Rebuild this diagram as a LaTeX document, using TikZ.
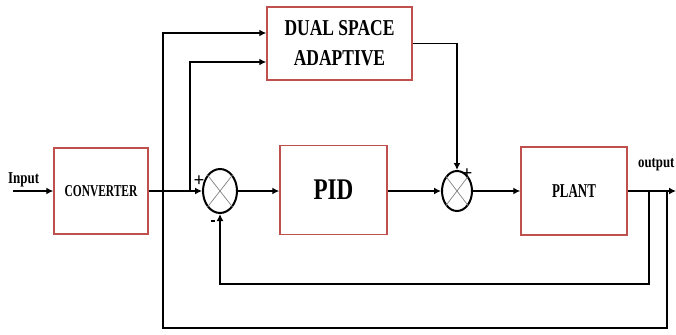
\documentclass[tikz,border=0pt]{standalone}
\usepackage{fontspec}
\setmainfont{Liberation Serif}
\usetikzlibrary{arrows.meta,shapes.geometric,calc}
\definecolor{boxred}{RGB}{192,80,77}
\newcommand{\sqz}[2]{\scalebox{#1}[1]{#2}}
\begin{document}
\begin{tikzpicture}[x=1pt,y=-1pt,
 blk/.style={draw=boxred,line width=1.5pt,rectangle,inner sep=0pt,fill=white},
 sumnode/.style={draw,ellipse,line width=2pt,inner sep=0pt},
 conn/.style={line width=1.9pt},
 arr/.style={conn,-{Latex[length=7pt,width=7pt]}},
 sgn/.style={font=\fontsize{19}{19}\selectfont\bfseries,inner sep=0pt}
]
\useasboundingbox (0,0) rectangle (676,334);
\node[blk,minimum width=94pt,minimum height=86pt] (conv) at (101,191) {\fontsize{16.6}{18}\selectfont\bfseries\sqz{0.69}{CONVERTER}};
\node[blk,minimum width=145pt,minimum height=73pt,align=center,font=\fontsize{22.7}{30}\selectfont\bfseries] (dsa) at (339.5,43.5) {\sqz{0.77}{DUAL SPACE}\\\sqz{0.77}{ADAPTIVE}};
\node[blk,minimum width=107pt,minimum height=89pt] (pid) at (333.5,190) {\fontsize{30}{32}\selectfont\bfseries\sqz{0.77}{PID}};
\node[blk,minimum width=106pt,minimum height=88pt] (plant) at (574,191) {\fontsize{19.6}{22}\selectfont\bfseries\sqz{0.66}{PLANT}};
\node[sumnode,minimum width=34pt,minimum height=44pt] (s1) at (220,191) {};
\node[sumnode,minimum width=30pt,minimum height=40pt] (s2) at (457,191) {};
\draw[gray,line width=0.7pt] (s1.north east) -- (s1.south west) (s1.north west) -- (s1.south east);
\draw[gray,line width=0.7pt] (s2.north east) -- (s2.south west) (s2.north west) -- (s2.south east);
\node[font=\fontsize{16.6}{18}\selectfont\bfseries,anchor=base west,inner sep=0pt] (inlbl) at (8,183) {\sqz{0.78}{Input}};
\node[font=\fontsize{16}{18}\selectfont\bfseries,anchor=base west,inner sep=0pt] (outlbl) at (638,167) {\sqz{0.8}{output}};
\node[sgn] (p1) at (199,181) {+};
\node[sgn] (m1) at (213,221) {\rule{4pt}{1.6pt}};
\node[sgn] (p2) at (467,174) {+};
\coordinate (in) at (13,191);
\coordinate (out) at (676,191);
\coordinate (tapA) at (190,191);
\coordinate (tapB) at (649,191);
\coordinate (tapC) at (667,191);
\coordinate (c1) at (163,328);
\coordinate (fb) at (220,284);
\draw[arr] (in) -- (conv);
\draw[arr] (conv) -- (s1);
\draw[arr] (s1) -- (s1 -| pid.west);
\draw[arr] (pid.east |- s2) -- (s2);
\draw[arr] (s2) -- (plant);
\draw[arr] (plant) -- (out);
\draw[arr] (tapA) |- ([yshift=-18.5pt]dsa.west);
\draw[arr] (tapC) |- (c1) |- ([yshift=10.5pt]dsa.west);
\draw[arr] (dsa.east) -| (s2.north);
\draw[arr] (tapB) |- (fb) -- (s1.south);
\end{tikzpicture}
\end{document}
